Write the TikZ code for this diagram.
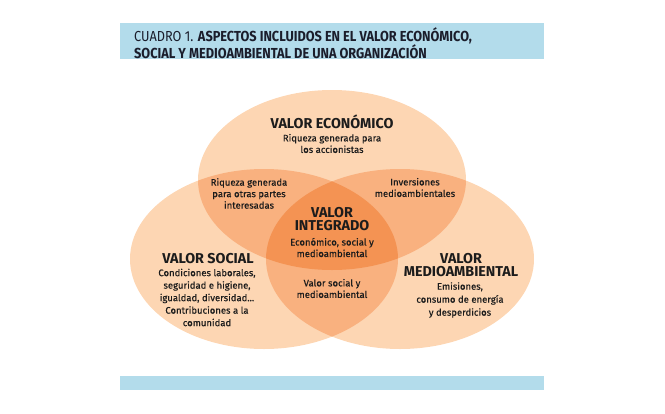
\documentclass[tikz,border=0pt]{standalone}
\usepackage{fontspec}
\setmainfont{Fira Sans}
\newfontfamily\titlefont[FakeStretch=0.88]{Fira Sans}
\newfontfamily\bodyfont[FakeBold=0.35]{Fira Sans}
\usepackage{xcolor}
\usepackage{tikz}
\definecolor{barblue}{HTML}{B3DCEB}
\definecolor{peach}{HTML}{FDD6B3}
\definecolor{peachmid}{HTML}{F9B17F}
\definecolor{peachdark}{HTML}{F49353}
\definecolor{inkdark}{HTML}{1C1C1C}
\definecolor{titleink}{HTML}{1B1D2B}

\tikzset{
  heading/.style={align=center, inner sep=0pt, text=inkdark,
                  font=\bfseries\fontsize{14.3}{13}\selectfont},
  body/.style={align=center, inner sep=0pt, text=inkdark,
               font=\bodyfont\fontsize{9.5}{11.5}\selectfont},
  bar/.style={fill=barblue, draw=none},
}

\begin{document}
\begin{tikzpicture}[x=1pt, y=-1pt]
  \useasboundingbox (0,0) rectangle (665,413);

  % bars
  \fill[bar] (120,23) rectangle (544,59);
  \fill[bar] (120,376) rectangle (544,390);
  \node[anchor=west, inner sep=0pt, text=titleink, align=left,
        font=\titlefont\fontsize{14.5}{17}\selectfont] (title) at (134,43.5)
    {CUADRO 1. \textbf{ASPECTOS INCLUIDOS EN EL VALOR ECONÓMICO,}\\
     \textbf{SOCIAL Y MEDIOAMBIENTAL DE UNA ORGANIZACIÓN}};

  % the three values
  \coordinate (eco) at (332,180);
  \coordinate (soc) at (264,259);
  \coordinate (amb) at (400,259);
  \def\rx{134pt}\def\ry{90pt}

  \fill[peach] (eco) ellipse [x radius=\rx, y radius=\ry];
  \fill[peach] (soc) ellipse [x radius=\rx, y radius=\ry];
  \fill[peach] (amb) ellipse [x radius=\rx, y radius=\ry];
  \begin{scope}
    \clip (eco) ellipse [x radius=\rx, y radius=\ry];
    \fill[peachmid] (soc) ellipse [x radius=\rx, y radius=\ry];
    \fill[peachmid] (amb) ellipse [x radius=\rx, y radius=\ry];
  \end{scope}
  \begin{scope}
    \clip (soc) ellipse [x radius=\rx, y radius=\ry];
    \fill[peachmid] (amb) ellipse [x radius=\rx, y radius=\ry];
    \clip (eco) ellipse [x radius=\rx, y radius=\ry];
    \fill[peachdark] (amb) ellipse [x radius=\rx, y radius=\ry];
  \end{scope}

  % labels
  \node[heading] (ecohead) at (332,122) {VALOR ECONÓMICO};
  \node[body] (ecotext) at (332,143.5) {Riqueza generada para\\los accionistas};
  \node[body] (ecosoc) at (249,193.5) {Riqueza generada\\para otras partes\\interesadas};
  \node[body] (ecoamb) at (415,187.5) {Inversiones\\medioambientales};
  \node[heading] (inthead) at (332,219.5) {VALOR\\INTEGRADO};
  \node[body] (inttext) at (332,247.5) {Económico, social y\\medioambiental};
  \node[heading] (sochead) at (208,259) {VALOR SOCIAL};
  \node[body, font=\bodyfont\fontsize{9.5}{12.5}\selectfont] (soctext) at (207,297.5)
    {Condiciones laborales,\\seguridad e higiene,\\igualdad, diversidad...\\Contribuciones a la\\comunidad};
  \node[body] (socamb) at (332,288.5) {Valor social y\\medioambiental};
  \node[heading] (ambhead) at (461,265.5) {VALOR\\MEDIOAMBIENTAL};
  \node[body, font=\bodyfont\fontsize{9.5}{13}\selectfont] (ambtext) at (460,300)
    {Emisiones,\\consumo de energía\\y desperdicios};
\end{tikzpicture}
\end{document}
